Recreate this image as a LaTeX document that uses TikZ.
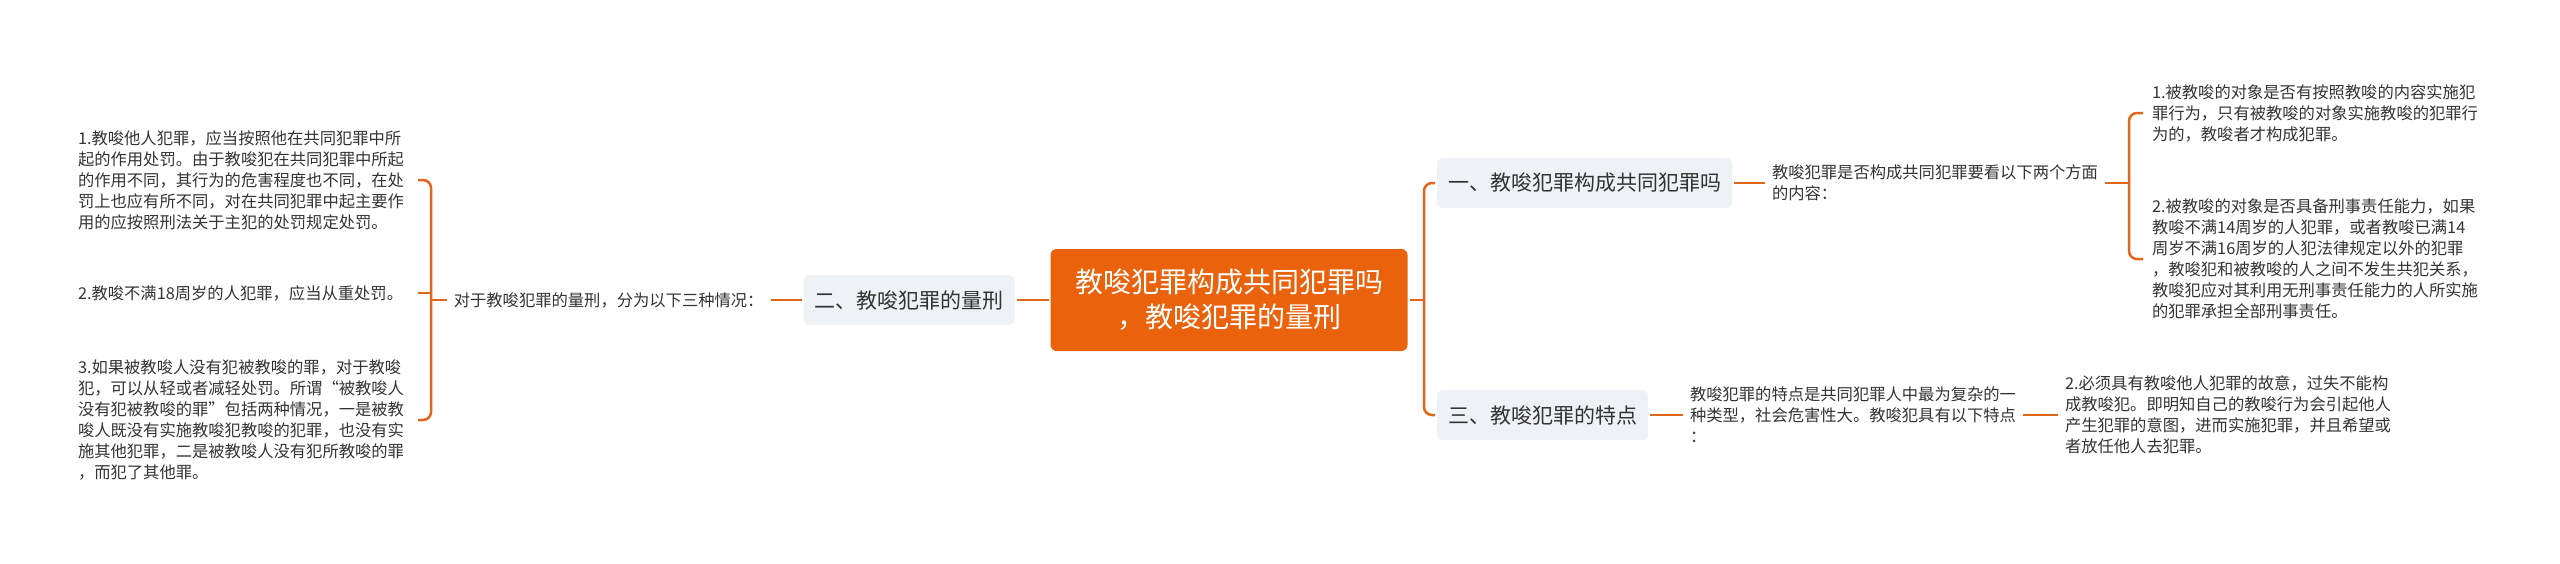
\documentclass[tikz,border=0pt]{standalone}
\usepackage{fontspec}
\usepackage{xcolor}
\usepackage{tikz}
\usetikzlibrary{positioning}
\newfontfamily\cjk{Noto Sans CJK SC}
\definecolor{rootorange}{HTML}{EA620B}
\definecolor{linkorange}{HTML}{E0661C}
\definecolor{topicgray}{HTML}{EEF1F5}
\definecolor{textgray}{HTML}{333333}

\begin{document}
\begin{tikzpicture}[x=1pt, y=-1pt, every node/.style={font=\cjk, text=textgray}]
    \tikzstyle{centertopic} = [rectangle, rounded corners=6pt, fill=rootorange, text=white, font=\cjk\fontsize{28}{35}\selectfont, minimum width=357pt, minimum height=102pt, align=center, outer sep=2pt]
    \tikzstyle{topic} = [rectangle, rounded corners=6pt, fill=topicgray, font=\cjk\fontsize{21}{25}\selectfont, inner xsep=11pt, minimum height=50pt, outer sep=2pt]
    \tikzstyle{detail} = [align=left, inner sep=0pt, outer xsep=7pt, font=\cjk\fontsize{16.3}{21}\selectfont]
    \tikzstyle{branch} = [draw=linkorange, line width=2.5pt]

    \useasboundingbox (0,0) rectangle (2560,563);

    % centre and left side
    \node[centertopic] (root) at (1229,300) {教唆犯罪构成共同犯罪吗\\，教唆犯罪的量刑};
    \node[topic, left=32pt of root] (punish) {二、教唆犯罪的量刑};
    \node[detail, left=31pt of punish] (punishintro) {对于教唆犯罪的量刑，分为以下三种情况：};
    \node[detail, anchor=west] (rule1) at (71,180) {1.教唆他人犯罪，应当按照他在共同犯罪中所\\起的作用处罚。由于教唆犯在共同犯罪中所起\\的作用不同，其行为的危害程度也不同，在处\\罚上也应有所不同，对在共同犯罪中起主要作\\用的应按照刑法关于主犯的处罚规定处罚。};
    \node[detail, anchor=west] (rule2) at (71,293) {2.教唆不满18周岁的人犯罪，应当从重处罚。};
    \node[detail, anchor=west] (rule3) at (71,420) {3.如果被教唆人没有犯被教唆的罪，对于教唆\\犯，可以从轻或者减轻处罚。所谓“被教唆人\\没有犯被教唆的罪”包括两种情况，一是被教\\唆人既没有实施教唆犯教唆的犯罪，也没有实\\施其他犯罪，二是被教唆人没有犯所教唆的罪\\，而犯了其他罪。};

    % right side
    \node[topic, anchor=west] (joint) at (1435,183) {一、教唆犯罪构成共同犯罪吗};
    \node[topic, anchor=west] (trait) at (1435,415) {三、教唆犯罪的特点};
    \node[detail, right=31pt of joint] (jointintro) {教唆犯罪是否构成共同犯罪要看以下两个方面\\的内容：};
    \node[detail, anchor=west] (cond1) at (2145,113) {1.被教唆的对象是否有按照教唆的内容实施犯\\罪行为，只有被教唆的对象实施教唆的犯罪行\\为的，教唆者才构成犯罪。};
    \node[detail, anchor=west] (cond2) at (2145,259) {2.被教唆的对象是否具备刑事责任能力，如果\\教唆不满14周岁的人犯罪，或者教唆已满14\\周岁不满16周岁的人犯法律规定以外的犯罪\\，教唆犯和被教唆的人之间不发生共犯关系，\\教唆犯应对其利用无刑事责任能力的人所实施\\的犯罪承担全部刑事责任。};
    \node[detail, right=33pt of trait] (traitintro) {教唆犯罪的特点是共同犯罪人中最为复杂的一\\种类型，社会危害性大。教唆犯具有以下特点\\：};
    \node[detail, right=35pt of traitintro] (cond3) {2.必须具有教唆他人犯罪的故意，过失不能构\\成教唆犯。即明知自己的教唆行为会引起他人\\产生犯罪的意图，进而实施犯罪，并且希望或\\者放任他人去犯罪。};

    \coordinate (lbrace) at (431,300);
    \coordinate (lstub) at (418,300);
    \coordinate (trunk) at (1424,300);
    \coordinate (rbrace) at (2129,183);
    \coordinate (rstub) at (2143,183);

    \draw[branch] (root) -- (punish);
    \draw[branch] (punish) -- (punishintro);
    \draw[branch] (punishintro) -- (lbrace);
    \draw[branch, rounded corners=8pt] (lstub |- rule1) -- (lbrace |- rule1) -- (lbrace |- rule3) -- (lstub |- rule3);
    \draw[branch] (lstub |- rule2) -- (lbrace |- rule2);

    \draw[branch] (root) -- (trunk);
    \draw[branch, rounded corners=8pt] (joint.west) -- (trunk |- joint.west) -- (trunk |- trait.west) -- (trait.west);
    \draw[branch] (joint) -- (jointintro);
    \draw[branch] (jointintro) -- (rbrace);
    \draw[branch, rounded corners=8pt] (rstub |- cond1) -- (rbrace |- cond1) -- (rbrace |- cond2) -- (rstub |- cond2);
    \draw[branch] (trait) -- (traitintro);
    \draw[branch] (traitintro) -- (cond3);
\end{tikzpicture}
\end{document}
